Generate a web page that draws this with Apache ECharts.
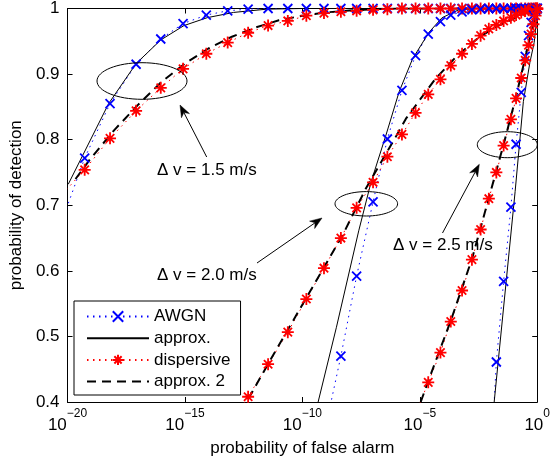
<!DOCTYPE html>
<html>
<head>
<meta charset="utf-8">
<script src="https://cdn.jsdelivr.net/npm/echarts@6/dist/echarts.min.js"></script>
<style>html,body{margin:0;padding:0;background:#fff}#container{width:553px;height:463px}</style>
</head>
<body>
<div id="container"></div>
<script>
var dom = document.getElementById('container');
var myChart = echarts.init(dom, null, { renderer: 'canvas' });

var FONT = '"Liberation Sans", Arial, Helvetica, sans-serif';

// log10 of the false alarm probability at each marker
var pfaExp = [-20.4, -19.27, -18.19, -17.08, -16.03, -15.08, -14.09, -13.18, -12.31, -11.46,
  -10.62, -9.83, -9.08, -8.36, -7.69, -6.99, -6.38, -5.76, -5.18, -4.64,
  -4.12, -3.68, -3.20, -2.78, -2.41, -2.06, -1.74, -1.43, -1.12, -0.90,
  -0.68, -0.51, -0.37, -0.26, -0.16, -0.07, 0];

// detection probability, dv = 1.5 m/s
var awgn15 = [0.66, 0.772, 0.855, 0.915, 0.9535, 0.977, 0.990, 0.9965, 0.999, 1,
  1, 1, 1, 1, 1, 1, 1, 1, 1, 1, 1, 1, 1, 1, 1, 1, 1, 1, 1, 1, 1, 1, 1, 1, 1, 1, 1];
var disp15 = [0.71, 0.754, 0.802, 0.844, 0.879, 0.908, 0.931, 0.948, 0.963, 0.974,
  0.981, 0.989, 0.993, 0.995, 0.9965, 0.998, 0.999, 1, 1, 1,
  1, 1, 1, 1, 1, 1, 1, 1, 1, 1, 1, 1, 1, 1, 1, 1, 1];
// dv = 2.0 m/s
var awgn20 = [null, null, null, null, null, null, null, null, null, null,
  null, null, 0.35, 0.470, 0.592, 0.705, 0.801, 0.875, 0.928, 0.961,
  0.980, 0.990, 0.995, 0.998, 0.999, 1, 1, 1, 1, 1, 1, 1, 1, 1, 1, 1, 1];
var disp20 = [null, null, null, null, null, null, null, 0.36, 0.408, 0.4576,
  0.5065, 0.557, 0.604, 0.650, 0.696, 0.735, 0.774, 0.808, 0.841, 0.869,
  0.892, 0.913, 0.931, 0.946, 0.9586, 0.969, 0.975, 0.981, 0.986, 0.990,
  0.994, 0.996, 0.9975, 0.998, 0.999, 1, 1];
// dv = 2.5 m/s
var awgn25 = [null, null, null, null, null, null, null, null, null, null,
  null, null, null, null, null, null, null, null, null, null,
  null, null, null, null, null, 0.25, 0.461, 0.584, 0.697, 0.793,
  0.872, 0.927, 0.9586, 0.979, 0.990, 0.997, 1];
var disp25 = [null, null, null, null, null, null, null, null, null, null,
  null, null, null, null, null, null, null, null, 0.381, 0.430,
  0.4753, 0.5227, 0.570, 0.617, 0.663, 0.710, 0.750, 0.791, 0.831, 0.863,
  0.894, 0.921, 0.944, 0.961, 0.976, 0.989, 0.999];

// analytic approximations [log10 Pfa, Pd]
var approx15 = [[-19.97, 0.732], [-19.41, 0.772], [-18.25, 0.855], [-17.08, 0.916], [-16.03, 0.952],
  [-15.04, 0.974], [-14.05, 0.986], [-12.93, 0.994], [-11.51, 0.999], [-10, 1], [0, 1]];
var approx2_15 = [[-19.66, 0.740], [-19, 0.772], [-18, 0.815], [-17, 0.853], [-16, 0.888], [-15, 0.916],
  [-14, 0.939], [-13, 0.957], [-12, 0.971], [-11, 0.982], [-10, 0.989], [-9, 0.994], [-8, 0.997],
  [-7, 0.999], [-6, 1], [0, 1]];
var approx20 = [[-9.5, 0.375], [-8.55, 0.514], [-7.60, 0.661], [-7.07, 0.736], [-6.44, 0.807],
  [-5.88, 0.873], [-5.31, 0.923], [-4.61, 0.9636], [-4.05, 0.986], [-3.34, 0.998], [-2.63, 1], [0, 1]];
var approx2_20 = [[-12.3, 0.405], [-11.45, 0.4586], [-9.82, 0.5596], [-8.27, 0.6556], [-7.29, 0.726],
  [-6.09, 0.80], [-5.59, 0.832], [-4.33, 0.893], [-3.41, 0.928], [-2.49, 0.956], [-1.65, 0.974],
  [-0.66, 0.990], [0, 0.999]];
var approx25 = [[-1.86, 0.39], [-0.94, 0.721], [-0.59, 0.858], [-0.31, 0.918], [-0.13, 0.948], [0, 0.99]];
var approx2_25 = [[-4.96, 0.40], [-4.64, 0.432], [-3.68, 0.524], [-2.78, 0.618], [-2.06, 0.711],
  [-1.43, 0.793], [-0.9, 0.866], [-0.51, 0.925], [-0.26, 0.963], [-0.07, 0.990], [0, 1]];

var crossPath = 'path://M0,0L10,10M10,0L0,10';
var starPath = 'path://M5,0L5,10M0,5L10,5M1.5,1.5L8.5,8.5M8.5,1.5L1.5,8.5';

function markerData(ys) {
  var out = [];
  pfaExp.forEach(function (e, i) {
    if (ys[i] != null) out.push([Math.pow(10, e), ys[i]]);
  });
  return out;
}
function curveData(pts) {
  return pts.map(function (p) { return [Math.pow(10, p[0]), p[1]]; });
}

function awgnSeries(ys) {
  return {
    name: 'AWGN', type: 'line', data: markerData(ys),
    symbol: crossPath, symbolSize: 9,
    lineStyle: { color: '#0000ff', width: 1, type: [1.5, 4.5] },
    itemStyle: { color: '#0000ff', borderColor: '#0000ff', borderWidth: 1.8 }
  };
}
function dispSeries(ys) {
  return {
    name: 'dispersive', type: 'line', data: markerData(ys),
    symbol: starPath, symbolSize: 12,
    lineStyle: { color: '#ff0000', width: 1, type: [1.5, 4.5] },
    itemStyle: { color: '#ff0000', borderColor: '#ff0000', borderWidth: 1.8 }
  };
}
function approxSeries(pts) {
  return {
    name: 'approx.', type: 'line', data: curveData(pts), showSymbol: false, symbol: 'circle',
    lineStyle: { color: '#000', width: 1, type: 'solid' },
    itemStyle: { color: '#000' }
  };
}
function approx2Series(pts) {
  return {
    name: 'approx. 2', type: 'line', data: curveData(pts), showSymbol: false, symbol: 'circle',
    lineStyle: { color: '#000', width: 2, type: [9, 6] },
    itemStyle: { color: '#000' }
  };
}

var series = [
  awgnSeries(awgn15), approxSeries(approx15), dispSeries(disp15), approx2Series(approx2_15),
  awgnSeries(awgn20), approxSeries(approx20), dispSeries(disp20), approx2Series(approx2_20),
  awgnSeries(awgn25), approxSeries(approx25), dispSeries(disp25), approx2Series(approx2_25)
];
series.forEach(function (s) {
  s.animation = false;
  s.clip = true;
  s.emphasis = { disabled: true };
});

function expLabel(v) {
  var e = Math.round(Math.log10(v));
  return '{b|10}{s|' + (e < 0 ? '\u2212' + (-e) : e) + '}';
}

var axisLineStyle = { show: true, lineStyle: { color: '#000', width: 1 } };

var option = {
  animation: false,
  grid: { left: 66, right: 14, top: 6, bottom: 61, containLabel: false },
  legend: {
    data: [
      { name: 'AWGN', itemStyle: { borderWidth: 2 } },
      { name: 'approx.', itemStyle: { opacity: 0 } },
      { name: 'dispersive', itemStyle: { borderWidth: 2 } },
      { name: 'approx. 2', itemStyle: { opacity: 0 } }
    ],
    orient: 'vertical', left: 74, top: 301,
    itemWidth: 62, itemHeight: 13, itemGap: 4.7,
    padding: [7, 10, 4.9, 12],
    backgroundColor: '#fff', borderColor: '#000', borderWidth: 1, borderRadius: 0,
    textStyle: { fontSize: 17, color: '#000', fontFamily: FONT },
    selectedMode: false
  },
  xAxis: [{
    type: 'log', logBase: 10, min: 1e-20, max: 1, interval: 5,
    position: 'bottom',
    name: 'probability of false alarm', nameLocation: 'middle', nameGap: 38,
    nameTextStyle: { fontSize: 17, color: '#000', fontFamily: FONT },
    axisLine: axisLineStyle,
    axisTick: { inside: true, length: 5, lineStyle: { color: '#000' } },
    minorTick: { show: false },
    splitLine: { show: false },
    axisLabel: {
      margin: 6, formatter: expLabel, color: '#000',
      rich: {
        b: { fontSize: 17, lineHeight: 26, verticalAlign: 'bottom', fontFamily: FONT, color: '#000' },
        s: { fontSize: 12, lineHeight: 12, verticalAlign: 'top', fontFamily: FONT, color: '#000' }
      }
    }
  }, {
    type: 'log', logBase: 10, min: 1e-20, max: 1, interval: 5,
    position: 'top',
    axisLine: axisLineStyle,
    axisTick: { inside: true, length: 5, lineStyle: { color: '#000' } },
    splitLine: { show: false },
    axisLabel: { show: false }
  }],
  yAxis: [{
    type: 'value', min: 0.4, max: 1, interval: 0.1,
    position: 'left',
    name: 'probability of detection', nameLocation: 'middle', nameGap: 38,
    nameTextStyle: { fontSize: 17, color: '#000', fontFamily: FONT },
    axisLine: axisLineStyle,
    axisTick: { inside: true, length: 5, lineStyle: { color: '#000' } },
    splitLine: { show: false },
    axisLabel: {
      margin: 8, color: '#000', fontSize: 17, fontFamily: FONT,
      formatter: function (v) { return v === 1 ? '1' : v.toFixed(1); }
    }
  }, {
    type: 'value', min: 0.4, max: 1, interval: 0.1,
    position: 'right',
    axisLine: axisLineStyle,
    axisTick: { inside: true, length: 5, lineStyle: { color: '#000' } },
    splitLine: { show: false },
    axisLabel: { show: false }
  }],
  series: series
};

// annotations: ellipses, arrows and labels (pixel positions)
function arrow(fx, fy, tx, ty) {
  var dx = tx - fx, dy = ty - fy, len = Math.sqrt(dx * dx + dy * dy);
  var ux = dx / len, uy = dy / len, nx = -uy, ny = ux;
  var L = 12, W = 4.5;
  var bx = tx - ux * L, by = ty - uy * L;
  var mx = tx - ux * L * 0.7, my = ty - uy * L * 0.7;
  return [{
    type: 'line', z: 100,
    shape: { x1: fx, y1: fy, x2: mx, y2: my },
    style: { stroke: '#000', lineWidth: 1 }
  }, {
    type: 'polygon', z: 100,
    shape: { points: [[tx, ty], [bx + nx * W, by + ny * W], [mx, my], [bx - nx * W, by - ny * W]] },
    style: { fill: '#000', stroke: '#000', lineWidth: 0.5 }
  }];
}
function ellipse(cx, cy, rx, ry) {
  return { type: 'ellipse', z: 100, shape: { cx: cx, cy: cy, rx: rx, ry: ry },
    style: { fill: 'none', stroke: '#000', lineWidth: 1 } };
}
function label(x, y, t) {
  return { type: 'text', z: 100, x: x, y: y,
    style: { text: t, font: '17px ' + FONT, fill: '#000', verticalAlign: 'middle', align: 'left' } };
}

option.graphic = [
  ellipse(142, 81, 45, 18.3),
  ellipse(366.3, 203.8, 31.3, 12.2),
  ellipse(507.3, 144.7, 30, 13),
  label(157, 170, '\u0394 v = 1.5 m/s'),
  label(157, 275, '\u0394 v = 2.0 m/s'),
  label(393, 245, '\u0394 v = 2.5 m/s')
].concat(arrow(206.7, 157, 180, 105))
 .concat(arrow(257, 263, 322, 218))
 .concat(arrow(442.5, 233, 479.3, 164.3));

if (option && typeof option === 'object') {
  myChart.setOption(option);
}

window.addEventListener('resize', myChart.resize);
</script>
</body>
</html>
